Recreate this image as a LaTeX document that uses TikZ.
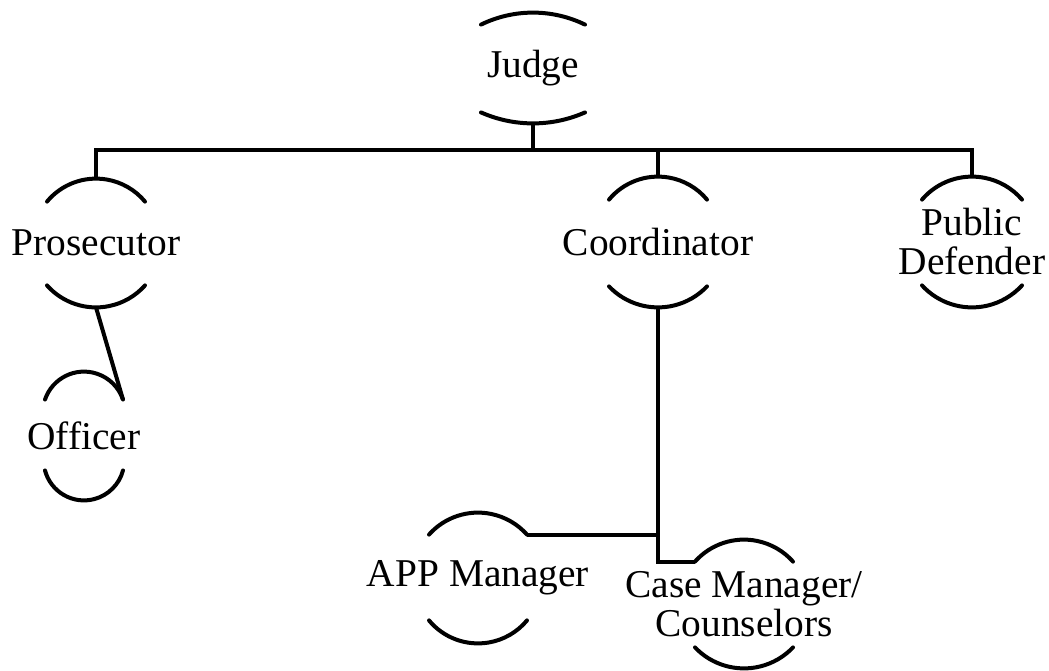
\documentclass[tikz,border=0pt]{standalone}
\usepackage{fontspec}
\setmainfont{Liberation Serif}
\usepackage{tikz}
\usetikzlibrary{calc}
\newcommand{\rolefont}{\fontsize{19.7}{19.5}\selectfont}

\begin{document}
\begin{tikzpicture}[x=0.5pt, y=-0.5pt,
		role/.style={inner sep=0pt, font=\rolefont, align=center},
		capline/.style={line width=2pt, line cap=round},
		link/.style={line width=2pt}]
	\useasboundingbox (0,0) rectangle (1049,670);
	% roles
	\node[role, minimum height=55pt] (judge) at (533,68) {Judge};
	\node[role, minimum height=64pt] (prosecutor) at (96,243) {Prosecutor};
	\node[role, minimum height=64pt] (officer) at (84,436) {Officer};
	\node[role, minimum height=65pt] (coordinator) at (658,242) {Coordinator};
	\node[role, minimum height=65pt] (defender) at (972,242) {Public\\Defender};
	\node[role, minimum height=65pt] (app) at (478,578) {APP Manager};
	\node[role, minimum height=64pt] (casemgr) at (744,604) {Case Manager/\\Counselors};
	% arcs above and below each role (half width / rise of top / rise of bottom)
	\foreach \n/\w/\st/\sb in {judge/52/12/11, prosecutor/49/23/22, officer/39/28/30,
			coordinator/49/23/21, defender/50/23/22, app/49/22/23, casemgr/49/22/21} {
		\pgfmathsetmacro\rt{(\w*\w+\st*\st)/(2*\st)}
		\pgfmathsetmacro\at{asin(\w/\rt)}
		\pgfmathsetmacro\rb{(\w*\w+\sb*\sb)/(2*\sb)}
		\pgfmathsetmacro\ab{asin(\w/\rb)}
		\draw[capline] ([shift={(-\w,\st)}]\n.north) coordinate (\n-tl)
			arc[start angle=-90-\at, end angle=-90+\at, radius=\rt] coordinate (\n-tr);
		\draw[capline] ([shift={(-\w,-\sb)}]\n.south) coordinate (\n-bl)
			arc[start angle=90+\ab, end angle=90-\ab, radius=\rb] coordinate (\n-br);
	}
	% links
	\coordinate (bus) at ([shift={(0,27)}]judge.south);
	\draw[link] (judge.south) -- (bus);
	\draw[link] (prosecutor.north) |- (bus) -| (defender.north);
	\draw[link] (coordinator.north) -- (coordinator.north |- bus);
	\draw[link] (prosecutor.south) -- (officer-tr);
	\draw[link] (coordinator.south) |- (casemgr-tl);
	\draw[link] (app-tr) -- (app-tr -| coordinator.south);
\end{tikzpicture}
\end{document}
